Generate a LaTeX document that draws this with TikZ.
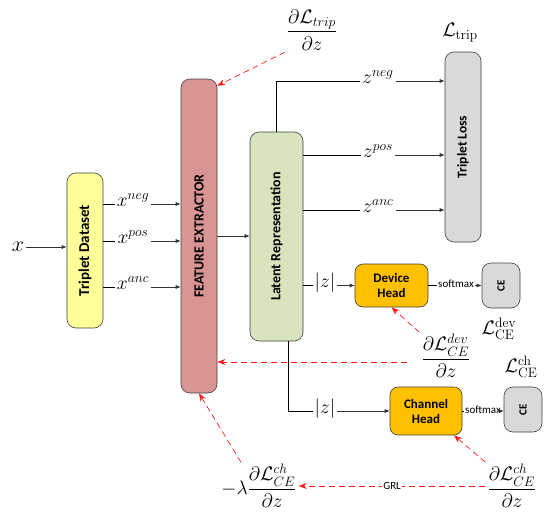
\RequirePackage{fix-cm}
\documentclass[tikz,border=0pt]{standalone}
\usepackage{amsmath}
\usepackage{amssymb}
\usepackage{graphicx}
\usepackage[no-math]{fontspec}
\newfontfamily\carlito{Carlito}
\usetikzlibrary{arrows.meta}
\usepackage{xcolor}

\definecolor{dsyellow}{HTML}{FFFF99}
\definecolor{fered}{HTML}{D99594}
\definecolor{latgreen}{HTML}{D7E4BD}
\definecolor{lossgrey}{HTML}{D9D9D9}
\definecolor{headorange}{HTML}{FFC000}
\definecolor{gradred}{HTML}{FF1A1A}

\begin{document}
\begin{tikzpicture}[
			x=1pt, y=-1pt,
			>=Stealth,
			box/.style={
				draw=black!75, line width=0.6pt, rounded corners=9pt,
				inner sep=0pt, align=center,
				font=\carlito\bfseries\fontsize{14}{16}\selectfont
			},
			head/.style={box, fill=headorange, rounded corners=8pt,
				font=\carlito\bfseries\fontsize{13}{15}\selectfont},
			lossbox/.style={box, fill=lossgrey, minimum width=38pt, minimum height=45pt,
				font=\carlito\bfseries\fontsize{11}{12}\selectfont},
			lab/.style={inner sep=2pt, font=\fontsize{19.5}{22}\selectfont},
			small/.style={inner sep=1pt, font=\carlito\fontsize{11}{12}\selectfont},
			arr/.style={-{Latex[length=5pt, width=4pt]}, line width=0.6pt, color=black!80},
			grad/.style={-{Stealth[length=8pt, width=6pt]}, line width=0.7pt, color=gradred,
				dash pattern=on 6pt off 4pt},
			]
			\useasboundingbox (0,0) rectangle (550,517);
			
			% ── Input and dataset ────────────────────────────────────────────
			\node[inner sep=2pt, font=\fontsize{22}{24}\selectfont] (xin) at (18,247) {$x$};
			\node[box, fill=dsyellow, minimum width=36pt, minimum height=155pt,
			font=\carlito\bfseries\fontsize{15}{16}\selectfont] (td) at (85,250.5)
			{\rotatebox{90}{Triplet Dataset}};
			
			\node[lab, anchor=mid] (xneg) at (133,204) {$x^{neg}$};
			\node[lab, anchor=mid] (xpos) at (133,241) {$x^{pos}$};
			\node[lab, anchor=mid] (xanc) at (133,287) {$x^{anc}$};
			
			\draw[arr] (xin) -- (td.west |- xin);
			\draw (td.east |- xneg.mid) -- (xneg.mid west);
			\draw (td.east |- xpos.mid) -- (xpos.mid west);
			\draw (td.east |- xanc.mid) -- (xanc.mid west);
			
			% ── Feature extractor and latent space ───────────────────────────
			\node[box, fill=fered, minimum width=36pt, minimum height=314pt] (fe) at (199,236)
			{\rotatebox{90}{FEATURE EXTRACTOR}};
			\node[box, fill=latgreen, minimum width=53pt, minimum height=209pt] (lat) at (276.5,236.5)
			{\rotatebox{90}{Latent Representation}};
			
			\draw[arr] (xneg.mid east) -- (fe.west |- xneg.mid);
			\draw[arr] (xpos.mid east) -- (fe.west |- xpos.mid);
			\draw[arr] (xanc.mid east) -- (fe.west |- xanc.mid);
			\draw[arr] (fe.east) -- (lat.west |- fe.east);
			
			% ── Triplet branch ───────────────────────────────────────────────
			\node[box, fill=lossgrey, minimum width=36pt, minimum height=190pt,
			font=\carlito\bfseries\fontsize{13.5}{15}\selectfont] (tl) at (463,147)
			{\rotatebox{90}{Triplet Loss}};
			\node[lab] (ltrip) at (460,33) {$\mathcal{L}_{\mathrm{trip}}$};
			
			\node[lab, anchor=mid] (zneg) at (378,81) {$z^{neg}$};
			\node[lab, anchor=mid] (zpos) at (378,155) {$z^{pos}$};
			\node[lab, anchor=mid] (zanc) at (378,210) {$z^{anc}$};
			
			\draw (lat.north) |- (zneg.mid west);
			\draw[arr] (zneg.mid east) -- (tl.west |- zneg.mid);
			\draw (lat.east |- zpos.mid) -- (zpos.mid west);
			\draw[arr] (zpos.mid east) -- (tl.west |- zpos.mid);
			\draw (lat.east |- zanc.mid) -- (zanc.mid west);
			\draw[arr] (zanc.mid east) -- (tl.west |- zanc.mid);
			
			% ── Device head ──────────────────────────────────────────────────
			\node[head, minimum width=73pt, minimum height=43pt] (dh) at (391.5,285.5) {Device\\Head};
			\node[lossbox] (cedev) at (501,285.5) {\rotatebox{90}{CE}};
			\node[lab, anchor=mid] (zdev) at (325,285.5) {$|z|$};
			\node[small, anchor=mid] (smdev) at (456,285.5) {softmax};
			\node[lab] (ldev) at (499,329) {$\mathcal{L}^{\mathrm{dev}}_{\mathrm{CE}}$};
			
			\draw (lat.east |- zdev.mid) -- (zdev.mid west);
			\draw[arr] (zdev.mid east) -- (dh.west |- zdev.mid);
			\draw (dh.east |- smdev.mid) -- (smdev.mid west);
			\draw[arr] (smdev.mid east) -- (cedev.west |- smdev.mid);
			
			% ── Channel head ─────────────────────────────────────────────────
			\node[head, minimum width=72pt, minimum height=48pt] (ch) at (426,411) {Channel\\Head};
			\node[lossbox] (cech) at (523,409.5) {\rotatebox{90}{CE}};
			\node[lab, anchor=mid] (zch) at (325,411) {$|z|$};
			\node[small, anchor=mid] (smch) at (483,411) {softmax};
			\node[lab] (lch) at (521,367) {$\mathcal{L}^{\mathrm{ch}}_{\mathrm{CE}}$};
			
			\draw ([xshift=11.5pt]lat.south) |- (zch.mid west);
			\draw[arr] (zch.mid east) -- (ch.west |- zch.mid);
			\draw (ch.east |- smch.mid) -- (smch.mid west);
			\draw[arr] (smch.mid east) -- (cech.west |- smch.mid);
			
			% ── Gradients ────────────────────────────────────────────────────
			\node[lab] (dtrip) at (312,30) {$\dfrac{\partial\mathcal{L}_{trip}}{\partial z}$};
			\node[lab] (ddev) at (446,356) {$\dfrac{\partial\mathcal{L}^{dev}_{CE}}{\partial z}$};
			\node[lab] (dch) at (512,486) {$\dfrac{\partial\mathcal{L}^{ch}_{CE}}{\partial z}$};
			\node[lab] (dgrl) at (259,486) {$-\lambda\dfrac{\partial\mathcal{L}^{ch}_{CE}}{\partial z}$};
			
			\draw[grad] (dtrip.south west) -- ([yshift=-7pt]fe.north east);
			\draw[grad] (ddev.north west) -- (dh.south);
			\draw[grad] ([xshift=-12pt, yshift=-6pt]ddev.west) -- ([yshift=-6pt]fe.east |- ddev.west);
			\draw[grad] (dch.north west) -- ([xshift=28pt]ch.south);
			\draw[grad] (dch.west) -- (dgrl.east)
			node[midway, fill=white, small, text=black] (grl) {GRL};
			\draw[grad] ([xshift=-18pt]dgrl.north) -- (fe.south);
			
		\end{tikzpicture}
\end{document}
